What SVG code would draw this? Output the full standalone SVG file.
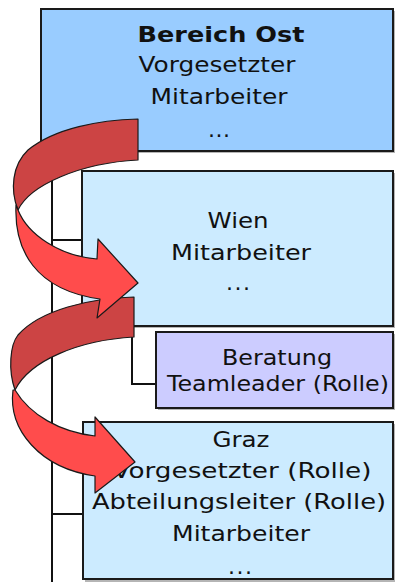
<svg xmlns="http://www.w3.org/2000/svg" width="395" height="582" viewBox="0 0 395 582">
<style>
.box{stroke:#1a1a1a;stroke-width:2}
.sh{fill:#b5b5b5}
.t{font-family:"DejaVu Sans","Verdana",sans-serif;font-size:22px;fill:#111;text-anchor:middle}
.b{font-weight:bold}
.ln{stroke:#111;stroke-width:2;fill:none}
.back{fill:#CC4444;stroke:#1a1a1a;stroke-width:1.2;stroke-linejoin:round}
.front{fill:#FF4C4C;stroke:#1a1a1a;stroke-width:1.2;stroke-linejoin:round}
</style>
<rect width="395" height="582" fill="#fff"/>
<g id="connectors">
<path class="ln" d="M52 151 V582"/>
<path class="ln" d="M52 240 H82"/>
<path class="ln" d="M52 514 H83"/>
<path class="ln" d="M132 326 V384 H156"/>
</g>
<g id="bereich-ost">
<rect class="sh" x="43" y="11" width="352" height="142"/>
<rect class="box" x="41" y="9" width="352" height="142" fill="#99CCFF"/>
<text class="t b" x="221" y="42" textLength="167" lengthAdjust="spacingAndGlyphs">Bereich Ost</text>
<text class="t" x="217" y="72" textLength="157" lengthAdjust="spacingAndGlyphs">Vorgesetzter</text>
<text class="t" x="219" y="104" textLength="137" lengthAdjust="spacingAndGlyphs">Mitarbeiter</text>
<text class="t" x="219" y="137" textLength="22">...</text>
</g>
<g id="wien">
<rect class="sh" x="84" y="173" width="311" height="155"/>
<rect class="box" x="82" y="171" width="311" height="155" fill="#CCEBFF"/>
<text class="t" x="238" y="228" textLength="61" lengthAdjust="spacingAndGlyphs">Wien</text>
<text class="t" x="241" y="260" textLength="140" lengthAdjust="spacingAndGlyphs">Mitarbeiter</text>
<text class="t" x="238" y="290" textLength="24">...</text>
</g>
<g id="beratung">
<rect class="sh" x="158" y="334" width="237" height="76"/>
<rect class="box" x="156" y="332" width="237" height="76" fill="#CCCCFF"/>
<text class="t" x="277" y="365" textLength="110" lengthAdjust="spacingAndGlyphs">Beratung</text>
<text class="t" x="278" y="391" textLength="222" lengthAdjust="spacingAndGlyphs">Teamleader (Rolle)</text>
</g>
<g id="graz">
<rect class="sh" x="85" y="424" width="310" height="158"/>
<rect class="box" x="83" y="422" width="310" height="157" fill="#CCEBFF"/>
<text class="t" x="241" y="447" textLength="57" lengthAdjust="spacingAndGlyphs">Graz</text>
<text class="t" x="242" y="478" textLength="259" lengthAdjust="spacingAndGlyphs">Vorgesetzter (Rolle)</text>
<text class="t" x="239" y="509" textLength="294" lengthAdjust="spacingAndGlyphs">Abteilungsleiter (Rolle)</text>
<text class="t" x="241" y="541" textLength="138" lengthAdjust="spacingAndGlyphs">Mitarbeiter</text>
<text class="t" x="240" y="574" textLength="24">...</text>
</g>
<g id="arrow-graz">
<path class="back" d="M134 297 L134 337 C80 340 30 360 15 390 C8 370 10 345 18 335 C40 310 90 298 134 297 Z"/>
<path class="front" d="M13 390 C8 430 40 468 95 476 L95 493 L135 462 L95 417 L95 436 C60 432 30 415 15 390 Z"/>
</g>
<g id="arrow-wien">
<path class="back" d="M138 119 L138 160 C80 163 30 185 18 210 C10 190 12 165 28 150 C55 128 100 120 138 119 Z"/>
<path class="front" d="M16 205 C14 250 35 290 100 299 L97 318 L138 283 L98 239 L97 259 C60 256 28 235 18 210 Z"/>
</g>
</svg>
